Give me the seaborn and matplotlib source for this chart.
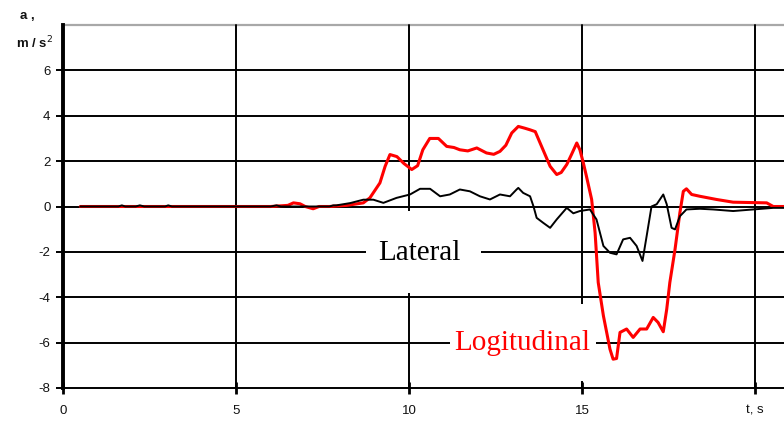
"""
Vehicle acceleration record: lateral and longitudinal a(t).
"""

import numpy as np
import pandas as pd
import matplotlib
matplotlib.use("Agg")
import matplotlib.pyplot as plt
from matplotlib.patches import Rectangle
import seaborn as sns

# Longitudinal acceleration (red)
long_t = [0.5, 2.0, 4.0, 6.0, 6.5, 6.66, 6.85, 7.0, 7.23, 7.4, 7.7, 8.2, 8.68,
          8.87, 9.16, 9.31, 9.45, 9.65, 9.85, 10.08, 10.25, 10.4, 10.6, 10.85,
          11.09, 11.3, 11.47, 11.7, 11.96, 12.24, 12.45, 12.63, 12.8, 12.97,
          13.16, 13.35, 13.5, 13.65, 13.79, 14.08, 14.27, 14.4, 14.56, 14.7,
          14.85, 14.94, 15.04, 15.13, 15.28, 15.38, 15.47, 15.62, 15.81, 15.9,
          16.0, 16.1, 16.29, 16.48, 16.68, 16.87, 17.06, 17.2, 17.35, 17.45,
          17.54, 17.69, 17.83, 17.93, 18.02, 18.17, 18.41, 18.89, 19.37,
          20.34, 20.53, 20.84]
long_a = [0.0, 0.0, 0.0, 0.0, 0.05, 0.16, 0.12, 0.0, -0.1, 0.0, 0.0, 0.05, 0.16,
          0.38, 1.04, 1.77, 2.29, 2.2, 1.9, 1.63, 1.8, 2.5, 3.0, 3.0,
          2.65, 2.6, 2.5, 2.45, 2.58, 2.36, 2.3, 2.43, 2.7, 3.24,
          3.53, 3.45, 3.38, 3.3, 2.8, 1.77, 1.41, 1.5, 1.85, 2.3,
          2.8, 2.5, 1.92, 1.33, 0.31, -1.16, -3.35, -4.82, -6.29, -6.73,
          -6.7, -5.55, -5.4, -5.77, -5.4, -5.4, -4.89, -5.11, -5.52, -4.53,
          -3.35, -1.89, -0.28, 0.67, 0.78, 0.53, 0.45, 0.31, 0.19,
          0.16, 0.0, 0.0]

# Lateral acceleration (black)
lat_t = [0.5, 1.6, 1.7, 1.8, 2.1, 2.22, 2.35, 2.95, 3.04, 3.15, 6.0, 6.17, 6.3,
         7.7, 7.81, 7.9, 8.3, 8.68, 8.97, 9.26, 9.64, 10.03, 10.32, 10.61,
         10.9, 11.18, 11.47, 11.76, 12.05, 12.34, 12.63, 12.92, 13.11, 13.16,
         13.3, 13.5, 13.6, 13.69, 13.88, 14.08, 14.27, 14.56, 14.75, 14.94,
         15.23, 15.42, 15.62, 15.81, 16.0, 16.19, 16.39, 16.58, 16.75, 16.87,
         17.01, 17.16, 17.35, 17.45, 17.59, 17.69, 17.83, 18.02, 18.41, 18.79,
         19.37, 19.95, 20.53, 20.84]
lat_a = [0.0, 0.0, 0.05, 0.0, 0.0, 0.05, 0.0, 0.0, 0.05, 0.0, 0.0, 0.05, 0.0,
         0.0, 0.05, 0.05, 0.15, 0.3, 0.3, 0.16, 0.38, 0.53, 0.78, 0.78,
         0.45, 0.53, 0.75, 0.67, 0.45, 0.31, 0.53, 0.45, 0.75, 0.82,
         0.6, 0.45, 0.0, -0.5, -0.72, -0.94, -0.57, -0.06, -0.3, -0.2,
         -0.13, -0.57, -1.74, -2.04, -2.11, -1.45, -1.38, -1.74, -2.4, -1.3,
         0.0, 0.1, 0.53, 0.1, -0.94, -1.01, -0.43, -0.13, -0.1, -0.13,
         -0.2, -0.13, -0.06, -0.06]

y_ticks = [-8, -6, -4, -2, 0, 2, 4, 6]
x_ticks = [0, 5, 10, 15, 20]
x_tick_labels = ["0", "5", "10", "15", "t, s"]

sns.set_style("white")
plt.rcParams['font.family'] = ['Liberation Sans', 'DejaVu Sans']

fig = plt.figure(figsize=(7.84, 4.21), dpi=100)
ax = fig.add_axes([0.0804, 0.0784, 0.9196, 0.8622])

ax.set_xlim(0, 20.84)
ax.set_ylim(-8, 8)

# grid (not clipped, so the lines on the frame keep their full width)
for y in y_ticks:
    ax.axhline(y, color='black', lw=1.4, zorder=1, clip_on=False)
ax.axhline(8, color='#a8a8a8', lw=1.6, zorder=1, clip_on=False)
for x in x_ticks[1:]:
    ax.axvline(x, color='black', lw=1.4, zorder=1, clip_on=False)

# white boxes behind the series labels
ax.add_patch(Rectangle((8.76, -3.8), 3.32, 3.6, facecolor='white',
                       edgecolor='none', zorder=1.5))
ax.add_patch(Rectangle((11.18, -7.7), 4.22, 3.4, facecolor='white',
                       edgecolor='none', zorder=1.5))

df_long = pd.DataFrame({'t': long_t, 'a': long_a})
df_lat = pd.DataFrame({'t': lat_t, 'a': lat_a})
sns.lineplot(data=df_long, x='t', y='a', color='#ff0000', lw=2.2, ax=ax,
             zorder=3, estimator=None, sort=False)
sns.lineplot(data=df_lat, x='t', y='a', color='black', lw=1.4, ax=ax,
             zorder=4, estimator=None, sort=False)

ax.text(10.29, -2.05, "Lateral", family=['Liberation Serif', 'DejaVu Serif'],
        fontsize=21, color='black', ha='center', va='center', zorder=5)
ax.text(13.26, -6.0, "Logitudinal", family=['Liberation Serif', 'DejaVu Serif'],
        fontsize=21, color='#ff0000', ha='center', va='center', zorder=5)

# axes styling
for side in ['top', 'right', 'bottom']:
    ax.spines[side].set_visible(False)
ax.spines['left'].set_linewidth(2.8)
ax.spines['left'].set_color('black')
ax.spines['left'].set_zorder(6)

ax.set_yticks(y_ticks)
ax.set_yticklabels([str(v) for v in y_ticks])
ax.set_xticks(x_ticks)
ax.set_xticklabels(x_tick_labels)
ax.tick_params(axis='y', direction='out', length=5, width=1.4, color='black',
               labelsize=9.5, labelcolor='#111111', pad=4, left=True)
ax.tick_params(axis='x', direction='inout', length=8, width=2.0, color='black',
               labelsize=9.5, labelcolor='#111111', pad=8, bottom=True)
ax.set_xlabel("")
ax.set_ylabel("")

fig.text(27 / 784, 1 - 16 / 421, "a ,", fontsize=9.5, color='#111111',
         ha='center', va='center', fontweight='bold')
fig.text(35 / 784, 1 - 43 / 421, "m / s$^2$", fontsize=9.5, color='#111111',
         ha='center', va='center', fontweight='bold')

fig.savefig("out.png", dpi=100)
